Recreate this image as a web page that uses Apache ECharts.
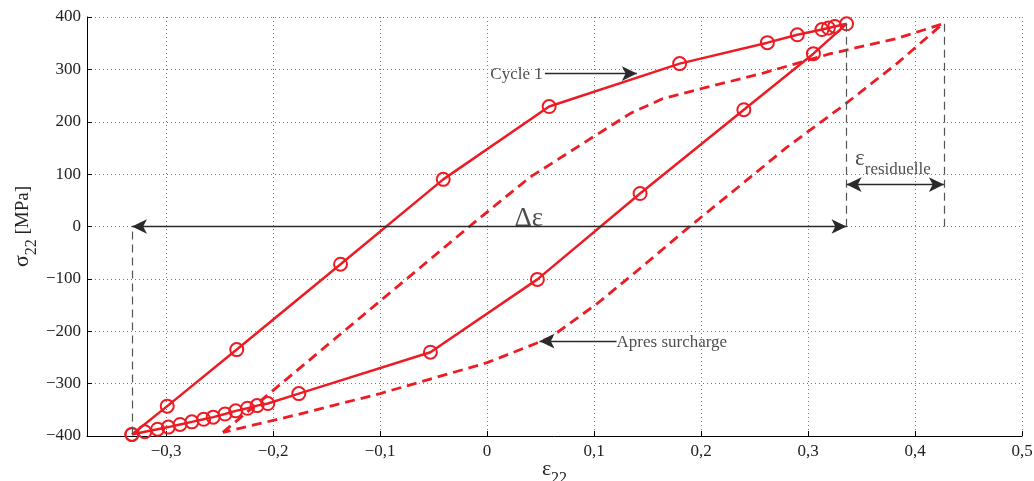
<!DOCTYPE html>
<html><head><meta charset="utf-8">
<script src="https://cdn.jsdelivr.net/npm/echarts@6/dist/echarts.min.js"></script>
<style>html,body{margin:0;padding:0;background:#fff}#c{width:1034px;height:481px}</style>
</head><body><div id="c"></div>
<script>
// Cycle 1 (solid, with circle markers): loading branch then unloading branch
const cycle1Strain = [-0.332,-0.299,-0.234,-0.137,-0.041,0.058,0.180,0.262,0.290,0.313,0.319,0.325,0.336,
  0.305,0.240,0.143,0.047,-0.053,-0.176,-0.205,-0.215,-0.224,-0.235,-0.245,-0.256,-0.265,-0.276,-0.287,-0.298,-0.308,-0.320,-0.332];
const cycle1Stress = [-397,-343,-235,-72,90,229,311,351,366,376,379,382,387,
  330,223,63,-101,-240,-319,-338,-342,-347,-352,-358,-364,-368,-373,-378,-383,-387,-392,-397];
// Apres surcharge (dashed)
const surchargeStrain = [-0.247,-0.135,-0.013,0.040,0.103,0.134,0.164,0.202,0.258,0.321,0.383,0.426,
  0.383,0.333,0.280,0.234,0.187,0.143,0.103,0.059,0.046,0.000,-0.100,-0.181,-0.247];
const surchargeStress = [-393,-202,6,94,176,216,244,264,293,330,359,387,
  311,231,151,74,-4,-80,-147,-212,-223,-260,-319,-361,-393];
// axis ranges / ticks
const xRange = [-0.374, 0.5];
const yRange = [-400, 400];
const yStep = 100;
// annotation anchors (data coordinates)
const deltaEps = {from:[-0.332,0], to:[0.336,0], text:[0.039,15]};
const epsRes = {from:[0.336,80], to:[0.427,80], text:[0.344,122]};
const guideLines = [[[-0.332,-397],[-0.332,0]], [[0.336,387],[0.336,-6]], [[0.427,387],[0.427,-4]]];
const cycleArrow = {from:[0.054,292], to:[0.140,292], text:[0.003,290]};
const surchArrow = {from:[0.121,-219], to:[0.049,-219], text:[0.121,-221]};

const FONT = 'Liberation Serif';
const RED = '#ec1c24';
const zip = (a,b) => a.map((v,i)=>[v,b[i]]);
const fmt = v => {
  if (Math.abs(v) < 1e-9) return '0';
  const s = Number.isInteger(v) ? String(Math.abs(v)) : Math.abs(v).toFixed(1).replace('.', ',');
  return (v < 0 ? '\u2212' : '') + s;
};
const seg = (a,b) => [{coord:a},{coord:b}];

const chart = echarts.init(document.getElementById('c'), null, {renderer:'canvas'});
chart.setOption({
  animation:false,
  backgroundColor:'#fff',
  grid:{left:87, right:12, top:17, bottom:45, containLabel:false, outerBoundsMode:'none'},
  xAxis:{
    type:'value', min:xRange[0], max:xRange[1], splitNumber:9, minInterval:0.1, maxInterval:0.1,
    axisLine:{onZero:false, lineStyle:{color:'#000', width:1}},
    axisTick:{inside:true, length:5, lineStyle:{color:'#000'}},
    axisLabel:{formatter:fmt, fontFamily:FONT, fontSize:17, color:'#222', margin:7, showMinLabel:false},
    splitLine:{show:true, lineStyle:{type:[1,3], color:'#777', width:1}},
    name:'{e|ε}{s|22}', nameLocation:'middle', nameGap:22, nameMoveOverlap:false,
    nameTextStyle:{fontFamily:FONT, color:'#222', rich:{e:{fontSize:22, fontFamily:FONT, padding:[0,0,7,0], verticalAlign:'bottom'}, s:{fontSize:16, fontFamily:FONT, verticalAlign:'bottom'}}}
  },
  yAxis:{
    type:'value', min:yRange[0], max:yRange[1], interval:yStep,
    axisLine:{onZero:false, lineStyle:{color:'#000', width:1}},
    axisTick:{inside:true, length:5, lineStyle:{color:'#000'}},
    axisLabel:{formatter:fmt, fontFamily:FONT, fontSize:17, color:'#222', margin:6},
    splitLine:{show:true, lineStyle:{type:[1,3], color:'#777', width:1}},
    name:'{e|σ}{s|22}{t| [MPa]}', nameLocation:'middle', nameGap:47, nameRotate:90, nameMoveOverlap:false,
    nameTextStyle:{fontFamily:FONT, color:'#222', rich:{e:{fontSize:22, fontFamily:FONT, padding:[0,0,7,0], verticalAlign:'bottom'}, s:{fontSize:16, fontFamily:FONT, verticalAlign:'bottom'}, t:{fontSize:19, fontFamily:FONT, padding:[0,0,7,0], verticalAlign:'bottom'}}}
  },
  series:[
    {
      name:'Apres surcharge', type:'line', data:zip(surchargeStrain, surchargeStress), showSymbol:false, symbol:'none',
      lineStyle:{color:RED, width:2.8, type:[10,6]}, z:2,
      markLine:{silent:true, symbol:'none', animation:false, label:{show:false},
        lineStyle:{color:'#555', width:1.2, type:[8,5]},
        data:guideLines.map(g=>seg(g[0],g[1]))}
    },
    {
      name:'Cycle 1', type:'line', data:zip(cycle1Strain, cycle1Stress), symbol:'circle', symbolSize:13, showAllSymbol:true,
      lineStyle:{color:RED, width:2.5}, itemStyle:{color:'rgba(255,255,255,0)', borderColor:RED, borderWidth:2}, z:3,
      markLine:{silent:true, symbol:['arrow','arrow'], symbolSize:[11,15], animation:false, label:{show:false},
        lineStyle:{color:'#2a2a2a', width:1.3, type:'solid'},
        data:[seg(deltaEps.from, deltaEps.to), seg(epsRes.from, epsRes.to)]}
    },
    {
      name:'arrows', type:'line', data:[], 
      markLine:{silent:true, symbol:['none','arrow'], symbolSize:[11,15], animation:false, label:{show:false},
        lineStyle:{color:'#2a2a2a', width:1.3, type:'solid'},
        data:[seg(cycleArrow.from, cycleArrow.to), seg(surchArrow.from, surchArrow.to)]}
    },
    {
      name:'labels', type:'scatter', symbolSize:0, silent:true, z:5,
      label:{show:true, fontFamily:FONT, color:'#222'},
      data:[
        {value:cycleArrow.text, label:{position:'right', distance:0, formatter:'Cycle 1', fontSize:17}},
        {value:surchArrow.text, label:{position:'right', distance:0, formatter:'Apres surcharge', fontSize:17}},
        {value:deltaEps.text, label:{position:'inside', formatter:'Δε', fontSize:27}},
        {value:epsRes.text, label:{position:'right', distance:0, formatter:'{e|ε}{s|residuelle}',
          rich:{e:{fontSize:23, fontFamily:FONT, color:'#222', padding:[0,0,7,0], verticalAlign:'bottom'}, s:{fontSize:17, fontFamily:FONT, color:'#222', verticalAlign:'bottom'}}}}
      ]
    }
  ]
});
</script></body></html>
